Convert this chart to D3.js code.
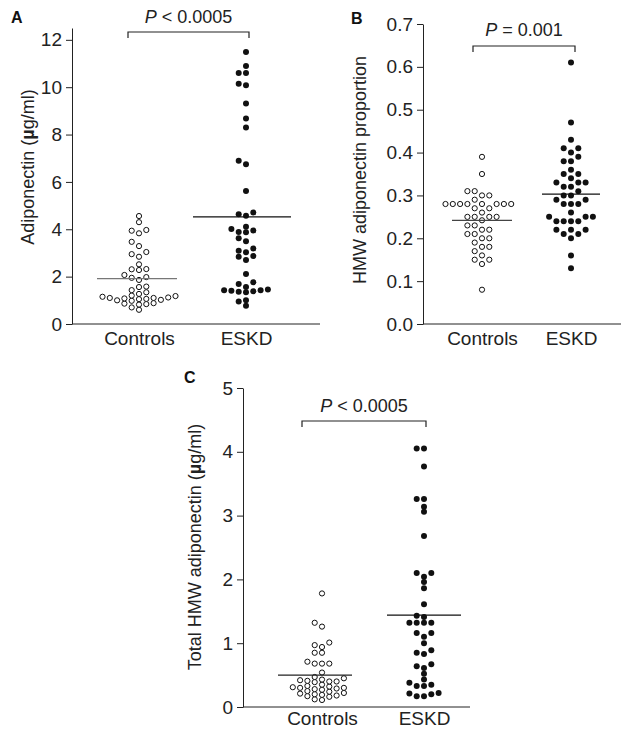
<!DOCTYPE html>
<html>
<head>
<meta charset="utf-8">
<script src="https://cdn.jsdelivr.net/npm/d3@7"></script>
<style>
body { margin: 0; background: #fff; }
svg { font-family: "Liberation Sans", Arial, sans-serif; }
</style>
</head>
<body>
<svg id="chart" width="621" height="731"></svg>
<script>
// categories
var groups = ["Controls", "ESKD"];

// panel A: adiponectin (ug/ml)
var adipoControls = [4.56, 4.30, 3.97, 3.94, 3.83, 3.47, 3.29, 3.04, 2.95, 2.84, 2.52, 2.32, 2.31, 2.28, 2.07,
  1.98, 1.95, 1.86, 1.58, 1.56, 1.43, 1.34, 1.27, 1.20, 1.18, 1.15, 1.12, 1.10, 1.10, 1.08, 1.06, 1.05,
  1.02, 1.00, 0.98, 0.88, 0.86, 0.84, 0.82, 0.70, 0.60];
var adipoESKD = [11.49, 10.89, 10.6, 10.6, 10.15, 10.08, 9.31, 8.68, 8.30, 6.89, 6.75, 5.62, 4.71, 4.63, 4.57,
  4.11, 4.01, 3.95, 3.89, 3.87, 3.62, 3.49, 3.19, 3.09, 3.03, 2.87, 2.84, 2.70, 2.11, 1.76, 1.69, 1.56,
  1.46, 1.43, 1.42, 1.40, 1.38, 1.36, 1.34, 1.00, 0.95, 0.77];
var adipoLines = [1.92, 4.52];
var adipoTicks = [0, 2, 4, 6, 8, 10, 12];

// panel B: HMW adiponectin proportion
var propControls = [0.39, 0.35, 0.31, 0.31, 0.30, 0.30, 0.29, 0.28, 0.28, 0.28, 0.28, 0.28, 0.28, 0.28, 0.28,
  0.27, 0.27, 0.26, 0.25, 0.25, 0.25, 0.25, 0.242, 0.23, 0.23, 0.22, 0.22, 0.21, 0.21, 0.20, 0.20, 0.19,
  0.18, 0.18, 0.17, 0.16, 0.15, 0.15, 0.14, 0.08];
var propESKD = [0.61, 0.47, 0.43, 0.41, 0.41, 0.40, 0.39, 0.38, 0.38, 0.36, 0.35, 0.35, 0.34, 0.33, 0.33,
  0.33, 0.32, 0.32, 0.31, 0.30, 0.30, 0.29, 0.29, 0.28, 0.28, 0.28, 0.26, 0.25, 0.25, 0.25, 0.24, 0.24,
  0.24, 0.24, 0.22, 0.22, 0.22, 0.21, 0.21, 0.20, 0.16, 0.13];
var propLines = [0.242, 0.303];
var propTicks = [0, 0.1, 0.2, 0.3, 0.4, 0.5, 0.6, 0.7];

// panel C: total HMW adiponectin (ug/ml)
var hmwControls = [1.78, 1.32, 1.26, 1.01, 0.97, 0.94, 0.85, 0.85, 0.71, 0.68, 0.68, 0.68, 0.54, 0.47, 0.45,
  0.43, 0.42, 0.41, 0.40, 0.40, 0.39, 0.35, 0.33, 0.32, 0.31, 0.30, 0.30, 0.29, 0.28, 0.27, 0.25, 0.24,
  0.22, 0.21, 0.20, 0.19, 0.18, 0.17, 0.16, 0.12, 0.11];
var hmwESKD = [4.05, 4.05, 3.77, 3.26, 3.26, 3.14, 3.06, 2.68, 2.10, 2.10, 2.04, 1.96, 1.86, 1.61, 1.43,
  1.41, 1.32, 1.32, 1.32, 1.32, 1.16, 1.16, 1.10, 1.00, 0.89, 0.85, 0.83, 0.67, 0.64, 0.61, 0.52, 0.43,
  0.38, 0.35, 0.33, 0.33, 0.22, 0.21, 0.20, 0.17, 0.17];
var hmwLines = [0.50, 1.44];
var hmwTicks = [0, 1, 2, 3, 4, 5];

var pLabels = ["< 0.0005", "= 0.001", "< 0.0005"];

var svg = d3.select("#chart");

// simple beeswarm: put each point as near the centre as it can go
function swarm(vals, y, cx, step, minD) {
  var placed = [];
  vals.slice().sort(function(a, b){ return a - b; }).forEach(function(v) {
    var py = y(v);
    for (var k = 0; k < 60; k++) {
      var off = k === 0 ? 0 : (k % 2 ? -Math.ceil(k / 2) : Math.ceil(k / 2));
      var px = cx + off * step;
      var ok = placed.every(function(p){ return Math.hypot(p.x - px, p.y - py) >= minD; });
      if (ok) { placed.push({x: px, y: py}); break; }
    }
  });
  return placed;
}

function panel(o) {
  var g = svg.append("g");
  var y = d3.scaleLinear().domain(o.domain).range([o.bottom, o.top]);
  var x = d3.scalePoint().domain(groups).range(o.centers);

  // y axis
  g.append("g")
    .attr("transform", "translate(" + o.left + ",0)")
    .call(d3.axisLeft(y).tickValues(o.ticks).tickFormat(o.fmt).tickSize(6).tickSizeOuter(0).tickPadding(4))
    .call(function(a) {
      a.select(".domain").attr("stroke", "#222");
      a.selectAll(".tick line").attr("stroke", "#222");
      a.selectAll("text").attr("font-size", 19).attr("fill", "#222")
        .attr("font-family", "'Liberation Sans', Arial, sans-serif");
    });

  // x axis
  g.append("line")
    .attr("x1", o.left).attr("x2", o.right)
    .attr("y1", o.bottom).attr("y2", o.bottom)
    .attr("stroke", "#222");
  g.append("g")
    .attr("transform", "translate(0," + o.bottom + ")")
    .call(d3.axisBottom(x).tickSize(0).tickPadding(o.catPad))
    .call(function(a) {
      a.select(".domain").remove();
      a.selectAll("text").attr("font-size", 19).attr("fill", "#222")
        .attr("font-family", "'Liberation Sans', Arial, sans-serif");
    });

  // points
  var sets = [o.controls, o.eskd];
  sets.forEach(function(vals, i) {
    var pts = swarm(vals, y, x(groups[i]), 7.3, 5.0);
    g.selectAll(null).data(pts).enter().append("circle")
      .attr("cx", function(d){ return d.x; })
      .attr("cy", function(d){ return d.y; })
      .attr("r", i === 0 ? 2.6 : 3)
      .attr("fill", i === 0 ? "#fff" : "#111")
      .attr("stroke", "#111")
      .attr("stroke-width", i === 0 ? 1 : 0);
  });

  // mean lines
  o.lines.forEach(function(v, i) {
    var c = x(groups[i]) + o.lineShift[i];
    g.append("line")
      .attr("x1", c - o.lineHalf[i]).attr("x2", c + o.lineHalf[i])
      .attr("y1", y(v)).attr("y2", y(v))
      .attr("stroke", i === 0 ? o.ctrlLine : "#111")
      .attr("stroke-width", 1.3);
  });

  // bracket and P value
  g.append("path")
    .attr("d", "M" + o.bracket[0] + "," + (o.bracket[2] + 6) + "V" + o.bracket[2] +
      "H" + o.bracket[1] + "V" + (o.bracket[2] + 6))
    .attr("fill", "none").attr("stroke", "#222").attr("stroke-width", 1.2);
  var pt = g.append("text")
    .attr("x", (o.bracket[0] + o.bracket[1]) / 2)
    .attr("y", o.pY)
    .attr("text-anchor", "middle")
    .attr("font-size", 18).attr("fill", "#222");
  pt.append("tspan").attr("font-style", "italic").text("P");
  pt.append("tspan").text(" " + o.pText);

  // y axis title
  var t = g.append("text")
    .attr("transform", "translate(" + o.titleX + "," + o.titleY + ") rotate(-90)")
    .attr("text-anchor", "middle")
    .attr("font-size", 18).attr("fill", "#222");
  o.title.forEach(function(part) {
    t.append("tspan").attr("font-weight", part[1] ? "bold" : "normal").text(part[0]);
  });

  // panel letter
  g.append("text")
    .attr("x", o.letterPos[0]).attr("y", o.letterPos[1])
    .attr("font-size", 16).attr("font-weight", "bold").attr("fill", "#111")
    .text(o.letter);
}

panel({
  left: 72, right: 320, top: 28, bottom: 324, domain: [0, 12.5], ticks: adipoTicks,
  fmt: d3.format("d"), centers: [139, 246], controls: adipoControls, eskd: adipoESKD,
  lines: adipoLines, lineHalf: [40, 49], lineShift: [-2, -4], ctrlLine: "#777", catPad: 8,
  bracket: [128, 249, 32], pY: 23, pText: pLabels[0],
  title: [["Adiponectin (", 0], ["\u00b5", 1], ["g/ml)", 0]], titleX: 34, titleY: 167,
  letter: "A", letterPos: [11, 23]
});

panel({
  left: 423, right: 621, top: 24, bottom: 324, domain: [0, 0.7], ticks: propTicks,
  fmt: d3.format(".1f"), centers: [482, 571], controls: propControls, eskd: propESKD,
  lines: propLines, lineHalf: [30, 29], lineShift: [0, 0], ctrlLine: "#444", catPad: 8,
  bracket: [473, 575, 46], pY: 36, pText: pLabels[1],
  title: [["HMW adiponectin proportion", 0]], titleX: 366, titleY: 170,
  letter: "B", letterPos: [351, 24]
});

panel({
  left: 243, right: 470, top: 388, bottom: 707, domain: [0, 5], ticks: hmwTicks,
  fmt: d3.format("d"), centers: [322, 424], controls: hmwControls, eskd: hmwESKD,
  lines: hmwLines, lineHalf: [37, 37], lineShift: [-7, 0], ctrlLine: "#222", catPad: 5,
  bracket: [302, 426, 421], pY: 412, pText: pLabels[2],
  title: [["Total HMW adiponectin (", 0], ["\u00b5", 1], ["g/ml)", 0]], titleX: 201, titleY: 547,
  letter: "C", letterPos: [184, 383]
});
</script>
</body>
</html>
